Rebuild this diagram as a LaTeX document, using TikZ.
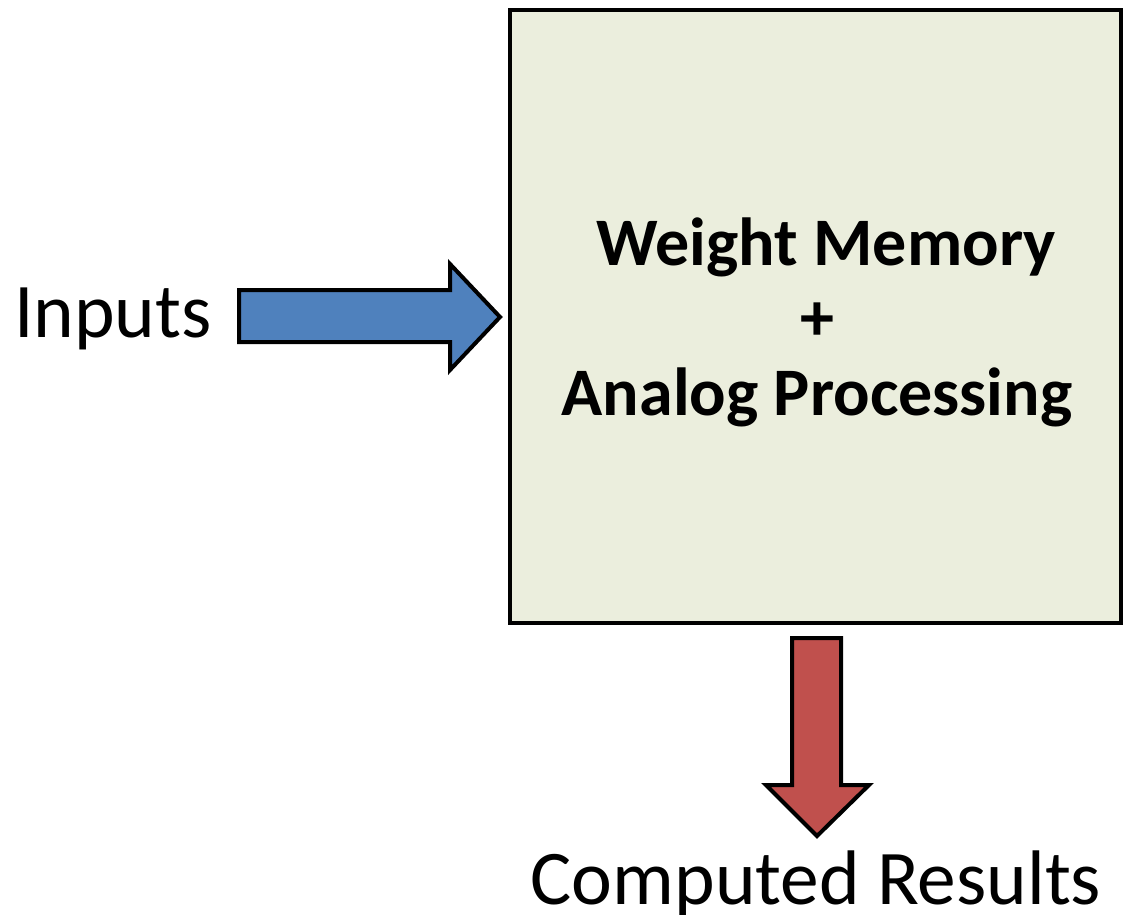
\documentclass[tikz,border=0pt]{standalone}
\usepackage{fontspec}
\setmainfont{Carlito}
\definecolor{boxfill}{HTML}{EBEEDD}
\definecolor{inblue}{HTML}{4F81BD}
\definecolor{outred}{HTML}{C0504D}
\begin{document}
\begin{tikzpicture}[x=0.75pt,y=-0.75pt,
  outline/.style={draw=black,line width=3pt,line join=miter},
  lbl/.style={inner sep=0pt,font=\fontsize{58}{66}\selectfont},
  boxlbl/.style={inner sep=0pt,font=\fontsize{51}{60}\selectfont\bfseries}]
\useasboundingbox (0,0) rectangle (1124,914);
% main box
\node[outline,fill=boxfill,rectangle,inner sep=0pt,outer sep=0pt,
      minimum width=458.25pt,minimum height=459.75pt] (box) at (815.5,316.5) {};
% text in box
\node[boxlbl,anchor=base] (t1) at (826,265) {Weight Memory};
\node[boxlbl,anchor=base] (t2) at (817,340) {+};
\node[boxlbl,anchor=base] (t3) at (817,415) {Analog Processing};
% input arrow
\draw[outline,fill=inblue] (239,290) -- (450,290) -- (450,264) -- (500,317) -- (450,370) -- (450,342) -- (239,342) -- cycle;
\node[lbl,anchor=base west] (inputs) at (14,337) {Inputs};
% output arrow
\draw[outline,fill=outred] (792,638) -- (841,638) -- (841,785) -- (869,785) -- (817,836) -- (766,785) -- (792,785) -- cycle;
\node[lbl,anchor=base] (results) at (816,904) {Computed Results};
\end{tikzpicture}
\end{document}
